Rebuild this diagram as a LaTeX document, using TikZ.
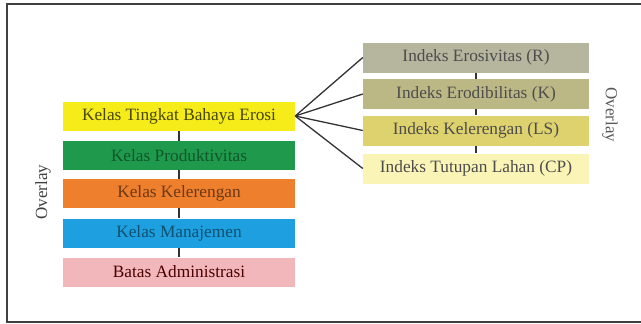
\documentclass[tikz,border=0pt]{standalone}
\usepackage{fontspec}
\setmainfont{Liberation Serif}
\definecolor{kuning}{HTML}{F5EC1A}
\definecolor{hijau}{HTML}{1F9A4C}
\definecolor{oranye}{HTML}{EE7F2D}
\definecolor{biru}{HTML}{1EA0E0}
\definecolor{merahmuda}{HTML}{F1B7BB}
\definecolor{abuR}{HTML}{B6B69F}
\definecolor{zaitunK}{HTML}{BCB886}
\definecolor{kuningLS}{HTML}{DED26E}
\definecolor{krimCP}{HTML}{FAF4B6}
\begin{document}
\begin{tikzpicture}[x=1pt,y=-1pt,
    kelas/.style={minimum width=232pt,minimum height=29pt,inner sep=0pt,font=\fontsize{17.3}{19}\selectfont},
    indeks/.style={minimum width=226pt,minimum height=30pt,inner sep=0pt,font=\fontsize{17.3}{19}\selectfont,text=black!70},
    garis/.style={draw=black!80,line width=1.3pt}]
  \useasboundingbox (0,0) rectangle (641,324);
  \draw[black!75,line width=1.6pt] (7,4) rectangle (660,322);
  % kolom kiri
  \node[kelas,fill=kuning,text=black!70!kuning] (tbe) at (179,116) {Kelas Tingkat Bahaya Erosi};
  \node[kelas,fill=hijau,text=black!45!hijau] (prod) at (179,155.5) {Kelas Produktivitas};
  \node[kelas,fill=oranye,text=black!55!oranye] (lereng) at (179,193.5) {Kelas Kelerengan};
  \node[kelas,fill=biru,text=black!50!biru] (mnj) at (179,233) {Kelas Manajemen};
  \node[kelas,fill=merahmuda,text=black!70!red] (adm) at (179,272) {Batas Administrasi};
  \draw[garis] (tbe) -- (prod);
  \draw[garis] (prod) -- (lereng);
  \draw[garis] (lereng) -- (mnj);
  \draw[garis] (mnj) -- (adm);
  \node[rotate=90,font=\fontsize{17}{19}\selectfont,text=black!75] (ovkiri) at (43,192) {Overlay};
  % kolom kanan
  \node[indeks,fill=abuR] (ir) at (476,57.5) {Indeks Erosivitas (R)};
  \node[indeks,fill=zaitunK] (ik) at (476,94) {Indeks Erodibilitas (K)};
  \node[indeks,fill=kuningLS] (ils) at (476,130.5) {Indeks Kelerengan (LS)};
  \node[indeks,fill=krimCP] (icp) at (476,168.5) {Indeks Tutupan Lahan (CP)};
  \draw[garis] (ir) -- (ik);
  \draw[garis] (ik) -- (ils);
  \draw[garis] (ils) -- (icp);
  \node[rotate=-90,font=\fontsize{17}{19}\selectfont,text=black!65] (ovkanan) at (610,115) {Overlay};
  % kipas
  \foreach \t in {ir,ik,ils,icp}
    \draw[garis] (tbe.east) -- (\t.west);
\end{tikzpicture}
\end{document}
